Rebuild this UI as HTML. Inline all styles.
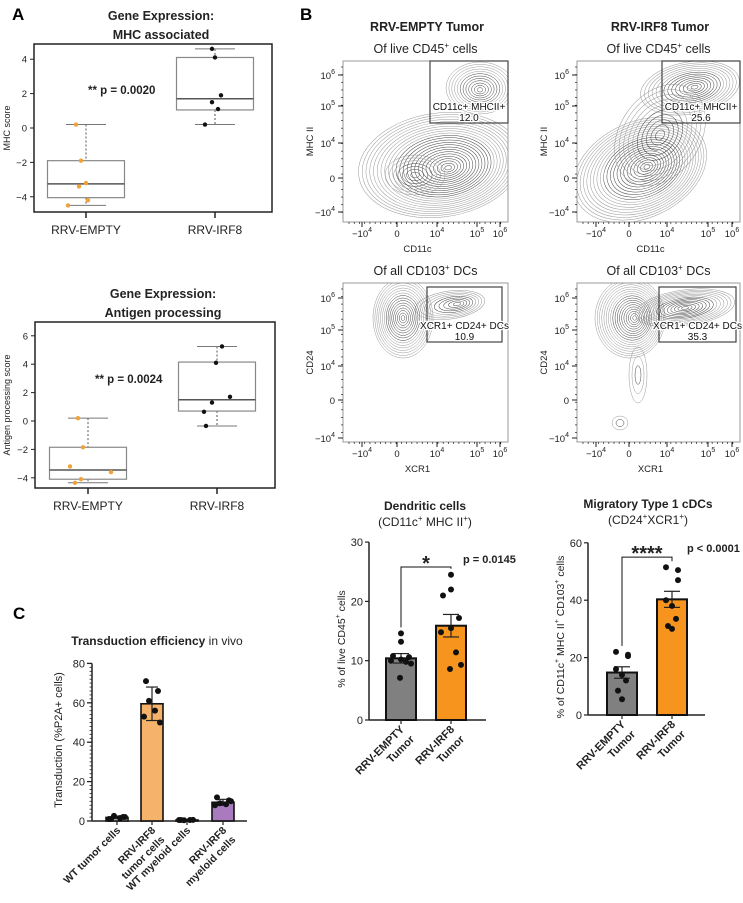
<!DOCTYPE html>
<html><head><meta charset="utf-8">
<style>
html,body{margin:0;padding:0;background:#fff;}
svg{display:block;font-family:"Liberation Sans",Arial,sans-serif;}
</style></head>
<body>
<svg id="fig" width="743" height="903" viewBox="0 0 743 903" xmlns="http://www.w3.org/2000/svg">
<text x="12" y="20" font-size="17" font-weight="bold">A</text>
<text x="300" y="20" font-size="17" font-weight="bold">B</text>
<text x="13" y="619" font-size="17" font-weight="bold">C</text>
</svg>
<script>
// ---------- DATA ----------
const boxGroups = ["RRV-EMPTY", "RRV-IRF8"];
const mhcEmptyPts = [0.2, -1.9, -3.2, -3.4, -4.2, -4.5];
const mhcIrf8Pts = [4.6, 4.1, 1.9, 1.5, 1.1, 0.2];
const mhcEmptyBox = [-4.5, -4.05, -3.25, -1.9, 0.2];
const mhcIrf8Box = [0.2, 1.05, 1.7, 4.1, 4.6];
const agEmptyPts = [0.2, -1.85, -3.2, -3.6, -4.1, -4.35];
const agIrf8Pts = [5.25, 4.1, 1.7, 1.3, 0.65, -0.35];
const agEmptyBox = [-4.35, -4.1, -3.45, -1.85, 0.2];
const agIrf8Box = [-0.35, 0.7, 1.5, 4.15, 5.25];
const mhcTicks = [-4, -2, 0, 2, 4];
const agTicks = [-4, -2, 0, 2, 4, 6];

const tumorGroups = [["RRV-EMPTY", "Tumor"], ["RRV-IRF8", "Tumor"]];
const dcMeans = [10.4, 15.9];
const dcSem = [0.8, 1.9];
const dcEmptyPts = [14.6, 13.2, 10.8, 10.6, 10.2, 10.0, 9.8, 9.5, 7.1];
const dcIrf8Pts = [24.5, 22, 21, 17.2, 15.5, 14.8, 11.4, 9.3, 8.6];
const dcTicks = [0, 10, 20, 30];
const migMeans = [14.8, 40.3];
const migSem = [2.0, 2.8];
const migEmptyPts = [22, 21, 20.5, 16, 14, 12, 8.5, 5.5];
const migIrf8Pts = [51.5, 50.5, 47, 40, 38, 33.5, 31, 30];
const migTicks = [0, 20, 40, 60];

const tdGroups = [["WT tumor cells"], ["RRV-IRF8", "tumor cells"], ["WT myeloid cells"], ["RRV-IRF8", "myeloid cells"]];
const tdMeans = [1.8, 59.5, 0.5, 9.5];
const tdSd = [0.7, 8.5, 0.3, 1.5];
const tdPts = [[1, 2, 2.6, 1.5, 1, 2], [71, 66, 61, 56, 53, 50], [0.5, 0.6, 0.4, 0.5, 0.5], [12, 10.5, 9, 8.5, 8, 10]];
const tdTicks = [0, 20, 40, 60, 80];

// ---------- HELPERS ----------
const NS = "http://www.w3.org/2000/svg";
const svg = document.getElementById("fig");
function tag(el, name) {
  
  
}
function mk(t, a, p) {
  const e = document.createElementNS(NS, t);
  for (const k in a) e.setAttribute(k, a[k]);
  (p || svg).appendChild(e);
  return e;
}
function txt(x, y, s, a, name) {
  const e = mk("text", Object.assign({x: x, y: y, "font-size": 10, fill: "#222"}, a || {}));
  e.innerHTML = s;
  tag(e, name);
  return e;
}
function line(x1, y1, x2, y2, a, name) {
  const e = mk("line", Object.assign({x1, y1, x2, y2, stroke: "#222", "stroke-width": 1}, a || {}));
  tag(e, name);
  return e;
}
function multi(lines, lh) {
  return lines.map((s, n) => `<tspan x="0" dy="${n ? lh : 0}">${s}</tspan>`).join("");
}

// ---------- PANEL A: box plots ----------
function boxPanel(cfg) {
  const y = v => cfg.y0 - v * cfg.k;
  const fr = mk("rect", {x: cfg.x0, y: cfg.top, width: cfg.x1 - cfg.x0, height: cfg.bot - cfg.top, fill: "none", stroke: "#222", "stroke-width": 1.5});
  tag(fr, cfg.name + "-frame");
  txt((cfg.x0 + cfg.x1) / 2 + 8, cfg.top - 24, "Gene Expression:", {"font-size": 12.5, "font-weight": "bold", "text-anchor": "middle"}, cfg.name + "-title");
  txt((cfg.x0 + cfg.x1) / 2 + 8, cfg.top - 5, cfg.sub, {"font-size": 12.5, "font-weight": "bold", "text-anchor": "middle"}, cfg.name + "-subtitle");
  cfg.ticks.forEach(t => {
    line(cfg.x0 - 4, y(t), cfg.x0, y(t), {}, "y-tick");
    txt(cfg.x0 - 7, y(t) + 3.5, t < 0 ? "\u2212" + (-t) : String(t), {"text-anchor": "end", "font-size": 9.5}, "y-tick-label");
  });
  txt(0, 0, cfg.ylabel, {"font-size": 9, "text-anchor": "middle", transform: `translate(10,${(cfg.top + cfg.bot) / 2}) rotate(-90)`}, "y-axis-title");
  boxGroups.forEach((g, i) => {
    const cx = cfg.cx[i], b = cfg.boxes[i], hw = 38.5;
    line(cx, cfg.bot, cx, cfg.bot + 6, {"stroke-width": 1.5}, "x-tick");
    txt(cx, cfg.bot + 22, g, {"text-anchor": "middle", "font-size": 12}, "x-tick-label");
    line(cx, y(b[4]), cx, y(b[3]), {"stroke-dasharray": "2,2", stroke: "#555"}, "whisker-upper");
    line(cx, y(b[1]), cx, y(b[0]), {"stroke-dasharray": "2,2", stroke: "#555"}, "whisker-lower");
    line(cx - 20, y(b[4]), cx + 20, y(b[4]), {stroke: "#777"}, "whisker-cap-upper");
    line(cx - 20, y(b[0]), cx + 20, y(b[0]), {stroke: "#777"}, "whisker-cap-lower");
    const r = mk("rect", {x: cx - hw, y: y(b[3]), width: 2 * hw, height: y(b[1]) - y(b[3]), fill: "none", stroke: "#888", "stroke-width": 1.2});
    tag(r, "box-" + g.toLowerCase());
    line(cx - hw, y(b[2]), cx + hw, y(b[2]), {stroke: "#555", "stroke-width": 1.5}, "median-line");
    cfg.pts[i].forEach((v, j) => {
      const c = mk("circle", {cx: cx + cfg.jit[i][j], cy: y(v), r: 2.2, fill: i === 0 ? "#F0A23A" : "#111"});
      tag(c, "data-point");
    });
  });
  txt(cfg.px, cfg.py, "** p = " + cfg.p, {"font-size": 11.5, "font-weight": "bold"}, "p-value");
}
boxPanel({name: "mhc-chart", sub: "MHC associated", x0: 34, x1: 272, top: 44, bot: 212, y0: 128, k: 17.2,
  ticks: mhcTicks, ylabel: "MHC score", cx: [86, 215], boxes: [mhcEmptyBox, mhcIrf8Box],
  pts: [mhcEmptyPts, mhcIrf8Pts], jit: [[-10, -5, 0, -7, 2, -18], [-3, 0, 6, -3, 3, -10]], p: "0.0020", px: 88, py: 94});
boxPanel({name: "antigen-chart", sub: "Antigen processing", x0: 35, x1: 275, top: 322, bot: 488, y0: 421, k: 14.2,
  ticks: agTicks, ylabel: "Antigen processing score", cx: [88, 217], boxes: [agEmptyBox, agIrf8Box],
  pts: [agEmptyPts, agIrf8Pts], jit: [[-10, -5, -18, 23, -7, -13], [5, -1, 13, -5, -13, -11]], p: "0.0024", px: 95, py: 383});

// ---------- PANEL B: flow plots ----------
function flowPlot(cfg) {
  const g = mk("g", {});
  tag(g, cfg.name);
  const x0 = cfg.x0, x1 = cfg.x1, y0 = cfg.y0, y1 = cfg.y1;
  const clip = mk("clipPath", {id: "clip-" + cfg.name}, g);
  mk("rect", {x: x0, y: y0, width: x1 - x0, height: y1 - y0}, clip);
  const cg = mk("g", {"clip-path": `url(#clip-${cfg.name})`}, g);
  tag(cg, "contours");
  cfg.blobs.forEach(b => {
    for (let i = 1; i <= b[5]; i++) {
      const f = i / b[5];
      const e = mk("ellipse", {cx: b[0] + b[6] * (1 - f), cy: b[1] + b[7] * (1 - f), rx: b[2] * f, ry: b[3] * f,
        transform: `rotate(${b[4]} ${b[0]} ${b[1]})`, fill: "none",
        stroke: f < 0.6 ? "#444" : "#999", "stroke-width": 0.5}, cg);
      tag(e, "contour-line");
    }
  });
  const fr = mk("rect", {x: x0, y: y0, width: x1 - x0, height: y1 - y0, fill: "none", stroke: "#999", "stroke-width": 1}, g);
  tag(fr, "plot-frame");
  const gt = mk("rect", {x: cfg.gate[0], y: cfg.gate[1], width: cfg.gate[2] - cfg.gate[0], height: cfg.gate[3] - cfg.gate[1], fill: "none", stroke: "#444", "stroke-width": 1.2}, g);
  tag(gt, "gate");
  txt((cfg.gate[0] + cfg.gate[2]) / 2, cfg.gate[3] - 13, cfg.gateLabel, {"text-anchor": "middle", "font-size": 10, fill: "#111", stroke: "#fff", "stroke-width": 2.5, "paint-order": "stroke"}, "gate-label");
  txt((cfg.gate[0] + cfg.gate[2]) / 2, cfg.gate[3] - 2, cfg.gatePct, {"text-anchor": "middle", "font-size": 10, fill: "#111", stroke: "#fff", "stroke-width": 2.5, "paint-order": "stroke"}, "gate-percent");
  txt((x0 + x1) / 2, y0 - 8, cfg.sub, {"text-anchor": "middle", "font-size": 12.5}, "plot-subtitle");
  const yl = ["10<tspan font-size='7' dy='-5'>6</tspan>", "10<tspan font-size='7' dy='-5'>5</tspan>", "10<tspan font-size='7' dy='-5'>4</tspan>", "0", "\u221210<tspan font-size='7' dy='-5'>4</tspan>"];
  cfg.yt.forEach((yy, i) => {
    line(x0 - 5, yy, x0, yy, {"stroke-width": 1}, "y-tick");
    txt(x0 - 8, yy + 4, yl[i], {"text-anchor": "end", "font-size": 9.5}, "y-tick-label");
  });
  for (let k = 0; k < 20; k++) line(x0 - 2, y0 + 6 + k * (y1 - y0 - 8) / 20, x0, y0 + 6 + k * (y1 - y0 - 8) / 20, {"stroke-width": 0.7}, "y-minor-tick");
  const xl = ["\u221210<tspan font-size='7' dy='-5'>4</tspan>", "0", "10<tspan font-size='7' dy='-5'>4</tspan>", "10<tspan font-size='7' dy='-5'>5</tspan>", "10<tspan font-size='7' dy='-5'>6</tspan>"];
  cfg.xt.forEach((xx, i) => {
    line(xx, y1, xx, y1 + 5, {}, "x-tick");
    txt(xx, y1 + 15, xl[i], {"text-anchor": "middle", "font-size": 9.5}, "x-tick-label");
  });
  for (let k = 0; k < 30; k++) line(x0 + 6 + k * (x1 - x0 - 8) / 30, y1, x0 + 6 + k * (x1 - x0 - 8) / 30, y1 + 2, {"stroke-width": 0.7}, "x-minor-tick");
  txt(0, 0, cfg.ylab, {"text-anchor": "middle", "font-size": 9.5, transform: `translate(${x0 - 30},${(y0 + y1) / 2}) rotate(-90)`}, "y-axis-title");
  txt((x0 + x1) / 2 - 8, y1 + 30, cfg.xlab, {"text-anchor": "middle", "font-size": 9.5}, "x-axis-title");
}
txt(427, 31, "RRV-EMPTY Tumor", {"text-anchor": "middle", "font-size": 12.5, "font-weight": "bold"}, "column-title-empty");
txt(660, 31, "RRV-IRF8 Tumor", {"text-anchor": "middle", "font-size": 12.5, "font-weight": "bold"}, "column-title-irf8");
flowPlot({name: "flow-empty-cd11c", x0: 343, x1: 508, y0: 61, y1: 222, sub: "Of live CD45<tspan font-size='8' dy='-5'>+</tspan><tspan dy='5'> cells</tspan>",
  yt: [75, 106, 143, 178, 212], xt: [362, 397, 437, 477, 500], ylab: "MHC II", xlab: "CD11c",
  gate: [430, 61, 508, 123], gateLabel: "CD11c+ MHCII+", gatePct: "12.0",
  blobs: [[440, 165, 82, 52, -8, 24, 8, 4], [480, 88, 34, 26, 0, 12, 0, 2], [415, 175, 30, 20, 0, 7, 0, 0]]});
flowPlot({name: "flow-irf8-cd11c", x0: 577, x1: 740, y0: 61, y1: 222, sub: "Of live CD45<tspan font-size='8' dy='-5'>+</tspan><tspan dy='5'> cells</tspan>",
  yt: [75, 106, 143, 178, 212], xt: [596, 629, 667, 708, 732], ylab: "MHC II", xlab: "CD11c",
  gate: [662, 61, 740, 123], gateLabel: "CD11c+ MHCII+", gatePct: "25.6",
  blobs: [[640, 170, 70, 48, -25, 22, 8, 0], [690, 88, 50, 26, -10, 14, 5, 0], [660, 135, 40, 55, 35, 10, 0, 0]]});
flowPlot({name: "flow-empty-xcr1", x0: 343, x1: 508, y0: 283, y1: 442, sub: "Of all CD103<tspan font-size='8' dy='-5'>+</tspan><tspan dy='5'> DCs</tspan>",
  yt: [298, 330, 366, 400, 438], xt: [362, 397, 437, 477, 500], ylab: "CD24", xlab: "XCR1",
  gate: [427, 287, 502, 342], gateLabel: "XCR1+ CD24+ DCs", gatePct: "10.9",
  blobs: [[403, 318, 30, 40, 0, 16, 0, 0], [450, 305, 35, 14, -8, 9, 8, 0]]});
flowPlot({name: "flow-irf8-xcr1", x0: 577, x1: 740, y0: 283, y1: 442, sub: "Of all CD103<tspan font-size='8' dy='-5'>+</tspan><tspan dy='5'> DCs</tspan>",
  yt: [298, 330, 366, 400, 438], xt: [596, 629, 667, 708, 732], ylab: "CD24", xlab: "XCR1",
  gate: [659, 287, 736, 342], gateLabel: "XCR1+ CD24+ DCs", gatePct: "35.3",
  blobs: [[630, 318, 35, 40, 0, 18, 5, 0], [685, 308, 50, 18, -8, 14, 0, 0], [638, 375, 9, 28, 0, 3, 0, 0], [620, 423, 8, 7, 0, 2, 0, 0]]});

// ---------- PANEL B: bar charts ----------
function barChart(cfg) {
  const y = v => cfg.base - v * cfg.k;
  txt(cfg.tx, cfg.ty, cfg.title, {"text-anchor": "middle", "font-size": 12, "font-weight": "bold"}, cfg.name + "-title");
  txt(cfg.tx, cfg.ty + 16, cfg.sub, {"text-anchor": "middle", "font-size": 12}, cfg.name + "-subtitle");
  line(cfg.ax, y(cfg.ticks[cfg.ticks.length - 1]), cfg.ax, cfg.base, {"stroke-width": 1.5}, "y-axis");
  line(cfg.ax, cfg.base, cfg.xend, cfg.base, {"stroke-width": 1.5}, "x-axis");
  cfg.ticks.forEach(t => {
    line(cfg.ax - 4, y(t), cfg.ax, y(t), {"stroke-width": 1.2}, "y-tick");
    txt(cfg.ax - 6, y(t) + 4, String(t), {"text-anchor": "end", "font-size": 11}, "y-tick-label");
  });
  txt(0, 0, cfg.ylab, {"text-anchor": "middle", "font-size": 10.5, transform: `translate(${cfg.ax - 24},${(cfg.base + y(cfg.ticks[cfg.ticks.length - 1])) / 2 + 8}) rotate(-90)`}, "y-axis-title");
  const cols = ["#808080", "#F7941D"];
  cfg.means.forEach((m, i) => {
    const cx = cfg.cx[i];
    const r = mk("rect", {x: cx - 15, y: y(m), width: 30, height: cfg.base - y(m), fill: cols[i], stroke: "#111", "stroke-width": 2});
    tag(r, "bar-" + tumorGroups[i][0].toLowerCase());
    line(cx, y(m + cfg.err[i]), cx, y(m - cfg.err[i]), {"stroke-width": 1.2}, "error-bar");
    line(cx - 8, y(m + cfg.err[i]), cx + 8, y(m + cfg.err[i]), {"stroke-width": 1.2}, "error-cap");
    line(cx - 8, y(m - cfg.err[i]), cx + 8, y(m - cfg.err[i]), {"stroke-width": 1.2}, "error-cap");
    cfg.pts[i].forEach((v, j) => {
      const c = mk("circle", {cx: cx + cfg.jit[j % cfg.jit.length], cy: y(v), r: 3, fill: "#111"});
      tag(c, "data-point");
    });
    line(cx, cfg.base, cx, cfg.base + 4, {"stroke-width": 1.2}, "x-tick");
    txt(0, 0, multi(tumorGroups[i], 14),
      {"text-anchor": "end", "font-size": 11, "font-weight": "bold", transform: `translate(${cx + 4},${cfg.base + 10}) rotate(-45)`}, "x-tick-label");
  });
  const by = y(cfg.bracket);
  const br = mk("path", {d: `M${cfg.cx[0]},${y(cfg.pts[0][0]) - 6} V${by} H${cfg.cx[1]} V${y(cfg.pts[1][0]) - 6}`, fill: "none", stroke: "#111", "stroke-width": 1}, svg);
  tag(br, "significance-bracket");
  txt((cfg.cx[0] + cfg.cx[1]) / 2, by - 1 + cfg.starDy, cfg.stars, {"text-anchor": "middle", "font-size": 20, "font-weight": "bold"}, "significance-stars");
  txt(cfg.px, cfg.py, cfg.p, {"font-size": 11, "font-weight": "bold"}, "p-value");
}
barChart({name: "dendritic-chart", title: "Dendritic cells", sub: "(CD11c<tspan font-size='8' dy='-5'>+</tspan><tspan dy='5'> MHC II</tspan><tspan font-size='8' dy='-5'>+</tspan><tspan dy='5'>)</tspan>",
  tx: 425, ty: 510, base: 720, k: 5.93, ax: 369, xend: 486, ticks: dcTicks, cx: [401, 451],
  means: dcMeans, err: dcSem, pts: [dcEmptyPts, dcIrf8Pts], jit: [0, 0, -8, 8, 0, -10, 5, 10, -1],
  ylab: "% of live CD45<tspan font-size='7' dy='-5'>+</tspan><tspan dy='5'> cells</tspan>", bracket: 25.8, stars: "*", starDy: 4, p: "p = 0.0145", px: 463, py: 563});
barChart({name: "migratory-chart", title: "Migratory Type 1 cDCs", sub: "(CD24<tspan font-size='8' dy='-5'>+</tspan><tspan dy='5'>XCR1</tspan><tspan font-size='8' dy='-5'>+</tspan><tspan dy='5'>)</tspan>",
  tx: 648, ty: 508, base: 715, k: 2.87, ax: 588, xend: 705, ticks: migTicks, cx: [622, 672],
  means: migMeans, err: migSem, pts: [migEmptyPts, migIrf8Pts], jit: [-6, 6, 6, -6, 0, 4, -4, 0, -4],
  ylab: "% of CD11c<tspan font-size='7' dy='-5'>+</tspan><tspan dy='5'> MHC II</tspan><tspan font-size='7' dy='-5'>+</tspan><tspan dy='5'> CD103</tspan><tspan font-size='7' dy='-5'>+</tspan><tspan dy='5'> cells</tspan>",
  bracket: 55, stars: "****", starDy: 4, p: "p &lt; 0.0001", px: 687, py: 552});

// ---------- PANEL C ----------
(function () {
  const base = 821, k = 1.97, ax = 92, y = v => base - v * k;
  txt(157, 645, "<tspan font-weight='bold'>Transduction efficiency</tspan> in vivo", {"text-anchor": "middle", "font-size": 12}, "transduction-title");
  line(ax, y(80), ax, base, {"stroke-width": 1.5}, "y-axis");
  line(ax, base, 247, base, {"stroke-width": 1.5}, "x-axis");
  for (let v = 0; v <= 80; v += 2) line(ax - 2.5, y(v), ax, y(v), {"stroke-width": 0.8}, "y-minor-tick");
  tdTicks.forEach(t => {
    line(ax - 5, y(t), ax, y(t), {"stroke-width": 1.3}, "y-tick");
    txt(ax - 7, y(t) + 4, String(t), {"text-anchor": "end", "font-size": 11}, "y-tick-label");
  });
  txt(0, 0, "Transduction (%P2A+ cells)", {"text-anchor": "middle", "font-size": 11, transform: `translate(62,740) rotate(-90)`}, "y-axis-title");
  const cxs = [117, 152, 187, 223], cols = ["#ffffff", "#F4B26A", "#ffffff", "#A97BBE"];
  const jit = [-6, 6, -3, 3, -8, 8];
  tdMeans.forEach((m, i) => {
    const cx = cxs[i];
    const r = mk("rect", {x: cx - 11, y: y(m), width: 22, height: base - y(m), fill: cols[i], stroke: "#111", "stroke-width": 1.6});
    tag(r, "bar-transduction");
    line(cx, y(m + tdSd[i]), cx, y(m - tdSd[i]), {"stroke-width": 1.2}, "error-bar");
    line(cx - 6, y(m + tdSd[i]), cx + 6, y(m + tdSd[i]), {"stroke-width": 1.2}, "error-cap");
    line(cx - 6, y(m - tdSd[i]), cx + 6, y(m - tdSd[i]), {"stroke-width": 1.2}, "error-cap");
    tdPts[i].forEach((v, j) => {
      const c = mk("circle", {cx: cx + jit[j], cy: y(v), r: 3, fill: "#111"});
      tag(c, "data-point");
    });
    line(cx, base, cx, base + 4, {"stroke-width": 1.2}, "x-tick");
    txt(0, 0, multi(tdGroups[i], 13), {"text-anchor": "end", "font-size": 10.5, "font-weight": "bold", transform: `translate(${cx + 4},${base + 10}) rotate(-45)`}, "x-tick-label");
  });
})();
</script>
</body></html>
